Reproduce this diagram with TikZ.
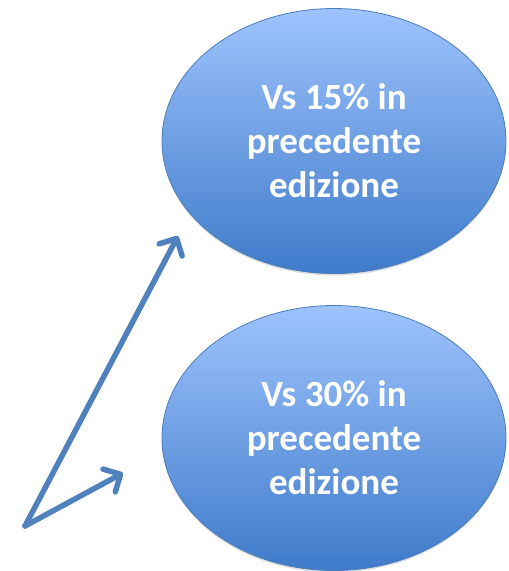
\documentclass[tikz,border=0pt]{standalone}
\usepackage{fontspec}
\setmainfont{Carlito}
\usepackage{tikz}
\usetikzlibrary{shapes.geometric,arrows.meta,shadows}

\definecolor{ovaltop}{HTML}{9EC3FD}
\definecolor{ovalbot}{HTML}{3F7BCA}
\definecolor{ovalline}{HTML}{4A7EBB}
\definecolor{arrowblue}{HTML}{4F81BD}

\tikzset{
	oval/.style={shape=ellipse, minimum width=344pt, minimum height=265pt, inner sep=0pt,
		top color=ovaltop, bottom color=ovalbot, draw=ovalline, line width=0.8pt,
		drop shadow={opacity=0.25, shadow xshift=0pt, shadow yshift=-2pt},
		text=white, align=center, font=\fontsize{37}{44}\selectfont\bfseries},
	pointer/.style={draw=arrowblue, line width=5.5pt, line cap=round,
		-{Straight Barb[length=13pt, width=26pt, line width=5.5pt, round]}}
}

\begin{document}
\begin{tikzpicture}[x=1pt, y=-1pt]
	\useasboundingbox (0,0) rectangle (509,571);
	\node[oval] (up) at (334,141) {Vs 15\% in\\precedente\\edizione};
	\node[oval] (down) at (334,438) {Vs 30\% in\\precedente\\edizione};
	
	\coordinate (o) at (25,526);
	\coordinate (a) at (178,236);
	\coordinate (b) at (123,473);
	
	\draw [pointer] (o) -- (a);
	\draw [pointer] (o) -- (b);
\end{tikzpicture}
\end{document}
